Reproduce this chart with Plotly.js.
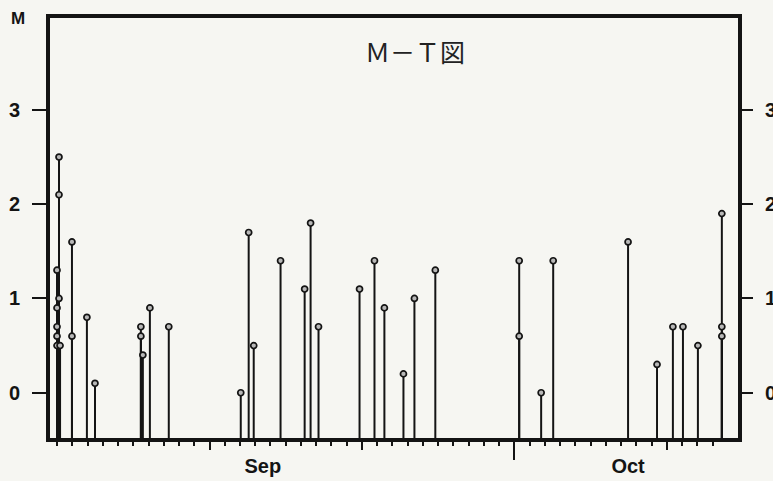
<!DOCTYPE html>
<html>
<head>
<meta charset="utf-8">
<script src="https://cdn.plot.ly/plotly-3.0.1.min.js"></script>
<style>
  html, body { margin: 0; padding: 0; background: #f6f6f2; }
  #chart { width: 773px; height: 481px; }
</style>
</head>
<body>
<div id="chart"></div>
<script>
// Event times (day index along the time axis) and magnitudes
const eventDays = [
  1.13, 1.13, 1.0, 1.13, 1.0, 1.0, 1.0, 1.0, 1.2,
  1.98, 1.98, 2.96, 3.49,
  6.50, 6.50, 6.63, 7.09, 8.33,
  13.05, 13.57, 13.90, 15.66, 17.24, 17.63, 18.15,
  20.84, 21.82, 22.47, 23.72, 24.44, 25.81,
  31.31, 31.31, 32.75, 33.54,
  38.45, 40.35, 41.39, 42.05, 43.03, 44.60, 44.60, 44.60
];
const eventMags = [
  2.5, 2.1, 1.3, 1.0, 0.9, 0.7, 0.6, 0.5, 0.5,
  1.6, 0.6, 0.8, 0.1,
  0.7, 0.6, 0.4, 0.9, 0.7,
  0.0, 1.7, 0.5, 1.4, 1.1, 1.8, 0.7,
  1.1, 1.4, 0.9, 0.2, 1.0, 1.3,
  1.4, 0.6, 0.0, 1.4,
  1.6, 0.3, 0.7, 0.7, 0.5, 1.9, 0.7, 0.6
];

// Axis ticks and labels
const dayTicks = [];
for (let d = 1; d <= 44; d++) dayTicks.push(d);
const tenDayTicks = [11, 21, 31, 41];
const longTicks = [31];
const monthLabelPos = [14.5, 38.45];
const monthLabels = ['Sep', 'Oct'];
const magTicks = [0, 1, 2, 3];
const magTickText = ['0', '1', '2', '3'];

const X_RANGE = [0.54, 45.66];
const Y_RANGE = [-0.48, 3.975];

const ink = '#141414';
const labelFont = { family: 'Liberation Sans, Arial, sans-serif', size: 20, color: ink, weight: 'bold' };

const stems = {
  type: 'scatter',
  mode: 'markers',
  x: eventDays,
  y: eventMags,
  cliponaxis: false,
  hoverinfo: 'x+y',
  error_y: {
    type: 'data',
    symmetric: false,
    array: eventMags.map(() => 0),
    arrayminus: eventMags.map(m => m - Y_RANGE[0]),
    thickness: 2,
    width: 0,
    color: ink
  },
  marker: { symbol: 'circle', size: 6, color: '#b8b8b8', line: { color: ink, width: 1.7 } },
  showlegend: false
};
const dummy = (xa, ya) => ({ type: 'scatter', mode: 'markers', x: [X_RANGE[0] - 5], y: [Y_RANGE[0] - 5], xaxis: xa, yaxis: ya, showlegend: false, hoverinfo: 'skip', marker: { opacity: 0 } });

const baseX = { range: X_RANGE, showgrid: false, zeroline: false, fixedrange: true };

const layout = {
  width: 773,
  height: 481,
  margin: { l: 50, r: 35, t: 18, b: 43 },
  paper_bgcolor: '#f6f6f2',
  plot_bgcolor: '#f6f6f2',
  showlegend: false,
  title: {
    text: 'Ｍ－Ｔ図',
    x: 410 / 773, xanchor: 'center', xref: 'paper',
    y: 1 - 53 / 481, yanchor: 'middle',
    font: { family: 'Noto Sans CJK JP, sans-serif', size: 25, color: '#222' }
  },
  xaxis: Object.assign({}, baseX, {
    tickmode: 'array', tickvals: dayTicks, showticklabels: false,
    ticks: 'outside', ticklen: 4, tickwidth: 2, tickcolor: ink,
    showline: true, linewidth: 4, linecolor: ink, mirror: true
  }),
  xaxis2: Object.assign({}, baseX, {
    overlaying: 'x', anchor: 'y', tickmode: 'array', tickvals: tenDayTicks,
    showticklabels: false, ticks: 'outside', ticklen: 11, tickwidth: 2, tickcolor: ink, showline: false
  }),
  xaxis3: Object.assign({}, baseX, {
    overlaying: 'x', anchor: 'y', tickmode: 'array', tickvals: longTicks,
    showticklabels: false, ticks: 'outside', ticklen: 21, tickwidth: 2, tickcolor: ink, showline: false
  }),
  xaxis4: Object.assign({}, baseX, {
    overlaying: 'x', anchor: 'y', tickmode: 'array', tickvals: monthLabelPos, ticktext: monthLabels,
    ticks: '', showline: false, tickfont: labelFont, ticklabelstandoff: 14
  }),
  yaxis: {
    range: Y_RANGE, showgrid: false, zeroline: false, fixedrange: true,
    tickmode: 'array', tickvals: magTicks, ticktext: magTickText,
    ticks: 'outside', ticklen: 14, tickwidth: 2, tickcolor: ink,
    showline: true, linewidth: 4, linecolor: ink, mirror: true,
    tickfont: labelFont, ticklabelstandoff: 8
  },
  yaxis2: {
    range: Y_RANGE, showgrid: false, zeroline: false, fixedrange: true,
    overlaying: 'y', side: 'right', anchor: 'x',
    tickmode: 'array', tickvals: magTicks, ticktext: magTickText,
    ticks: 'outside', ticklen: 14, tickwidth: 2, tickcolor: ink,
    showline: false, tickfont: labelFont, ticklabelstandoff: 8
  },
  annotations: [{
    text: 'M', xref: 'paper', yref: 'paper', x: 0, y: 1,
    xanchor: 'center', yanchor: 'middle', xshift: -32, yshift: 0,
    showarrow: false, font: { family: 'Liberation Sans, Arial, sans-serif', size: 17, color: ink, weight: 'bold' }
  }]
};

Plotly.newPlot('chart', [
  stems,
  dummy('x2', 'y'), dummy('x3', 'y'), dummy('x4', 'y'), dummy('x', 'y2')
], layout, { staticPlot: true, displayModeBar: false });
</script>
</body>
</html>
